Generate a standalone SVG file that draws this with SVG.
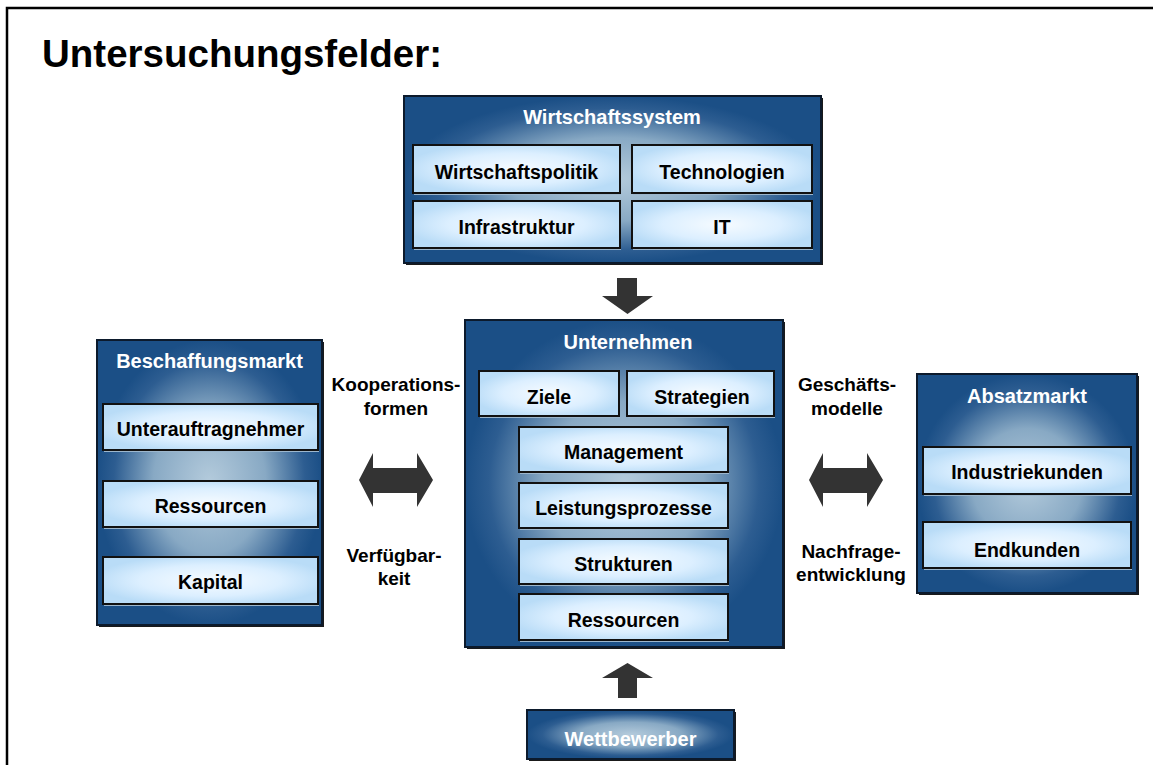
<svg xmlns="http://www.w3.org/2000/svg" width="1153" height="765" viewBox="0 0 1153 765">
<defs>
<radialGradient id="gOuter" cx="0.5" cy="0.5" r="0.5">
<stop offset="0" stop-color="#b4cbdc"/>
<stop offset="0.5" stop-color="#88a9c4"/>
<stop offset="0.85" stop-color="#2d5d91"/>
<stop offset="1" stop-color="#1b4f86"/>
</radialGradient>
<radialGradient id="gInner" cx="0.5" cy="0.5" r="0.55">
<stop offset="0" stop-color="#f6fbff"/>
<stop offset="0.6" stop-color="#dcefff"/>
<stop offset="1" stop-color="#b9dcf7"/>
</radialGradient>
<style>
.outer{fill:url(#gOuter);stroke:#0c1a2c;stroke-width:2}
.oshadow{fill:#1a1a1a}
.inner{fill:url(#gInner);stroke:#111;stroke-width:2}
.ishadow{fill:#9cb6cc}
.hd{font-family:"Liberation Sans",Arial,sans-serif;font-weight:bold;font-size:20px;fill:#fff;text-anchor:middle}
.tx{font-family:"Liberation Sans",Arial,sans-serif;font-weight:bold;font-size:19.5px;fill:#000;text-anchor:middle}
.lb{font-family:"Liberation Sans",Arial,sans-serif;font-weight:bold;font-size:19px;fill:#000;text-anchor:middle}
.arr{fill:#333}
</style>
</defs>
<rect width="1153" height="765" fill="#fff"/>
<path d="M7,770 V8 H1160" fill="none" stroke="#000" stroke-width="2.5"/>
<text x="42" y="67" font-family="Liberation Sans,Arial,sans-serif" font-weight="bold" font-size="38.5" fill="#000">Untersuchungsfelder:</text>

<g id="wirtschaftssystem">
<rect class="oshadow" x="406" y="98" width="417" height="167"/>
<rect class="outer" x="404" y="96" width="417" height="167"/>
<text class="hd" x="612" y="124">Wirtschaftssystem</text>
<g id="wirtschaftspolitik"><rect class="ishadow" x="414" y="147" width="207" height="48"/><rect class="inner" x="413" y="145" width="207" height="48"/><text class="tx" x="516.5" y="179">Wirtschaftspolitik</text></g>
<g id="technologien"><rect class="ishadow" x="633" y="147" width="180" height="48"/><rect class="inner" x="632" y="145" width="180" height="48"/><text class="tx" x="722" y="179">Technologien</text></g>
<g id="infrastruktur"><rect class="ishadow" x="414" y="203" width="207" height="47"/><rect class="inner" x="413" y="201" width="207" height="47"/><text class="tx" x="516.5" y="234">Infrastruktur</text></g>
<g id="it"><rect class="ishadow" x="633" y="203" width="180" height="47"/><rect class="inner" x="632" y="201" width="180" height="47"/><text class="tx" x="722" y="234">IT</text></g>
</g>

<g id="unternehmen">
<rect class="oshadow" x="467" y="322" width="318" height="327"/>
<rect class="outer" x="465" y="320" width="318" height="327"/>
<text class="hd" x="628" y="349">Unternehmen</text>
<g id="ziele"><rect class="ishadow" x="480" y="373" width="140" height="45"/><rect class="inner" x="479" y="371" width="140" height="45"/><text class="tx" x="549" y="404">Ziele</text></g>
<g id="strategien"><rect class="ishadow" x="628" y="373" width="147" height="45"/><rect class="inner" x="627" y="371" width="147" height="45"/><text class="tx" x="702" y="404">Strategien</text></g>
<g id="management"><rect class="ishadow" x="520" y="429" width="209" height="45"/><rect class="inner" x="519" y="427" width="209" height="45"/><text class="tx" x="623.5" y="459">Management</text></g>
<g id="leistungsprozesse"><rect class="ishadow" x="520" y="485" width="209" height="45"/><rect class="inner" x="519" y="483" width="209" height="45"/><text class="tx" x="623.5" y="515">Leistungsprozesse</text></g>
<g id="strukturen"><rect class="ishadow" x="520" y="541" width="209" height="45"/><rect class="inner" x="519" y="539" width="209" height="45"/><text class="tx" x="623.5" y="571">Strukturen</text></g>
<g id="ressourcen-u"><rect class="ishadow" x="520" y="596" width="209" height="46"/><rect class="inner" x="519" y="594" width="209" height="46"/><text class="tx" x="623.5" y="627">Ressourcen</text></g>
</g>

<g id="beschaffungsmarkt">
<rect class="oshadow" x="99" y="342" width="225" height="285"/>
<rect class="outer" x="97" y="340" width="225" height="285"/>
<text class="hd" x="209.5" y="368">Beschaffungsmarkt</text>
<g id="unterauftragnehmer"><rect class="ishadow" x="104" y="406" width="215" height="46"/><rect class="inner" x="103" y="404" width="215" height="46"/><text class="tx" x="210.5" y="436">Unterauftragnehmer</text></g>
<g id="ressourcen-b"><rect class="ishadow" x="104" y="483" width="215" height="46"/><rect class="inner" x="103" y="481" width="215" height="46"/><text class="tx" x="210.5" y="513">Ressourcen</text></g>
<g id="kapital"><rect class="ishadow" x="104" y="559" width="215" height="47"/><rect class="inner" x="103" y="557" width="215" height="47"/><text class="tx" x="210.5" y="589">Kapital</text></g>
</g>

<g id="absatzmarkt">
<rect class="oshadow" x="919" y="376" width="220" height="219"/>
<rect class="outer" x="917" y="374" width="220" height="219"/>
<text class="hd" x="1027" y="403">Absatzmarkt</text>
<g id="industriekunden"><rect class="ishadow" x="924" y="449" width="208" height="47"/><rect class="inner" x="923" y="447" width="208" height="47"/><text class="tx" x="1027" y="479">Industriekunden</text></g>
<g id="endkunden"><rect class="ishadow" x="924" y="524" width="208" height="46"/><rect class="inner" x="923" y="522" width="208" height="46"/><text class="tx" x="1027" y="557">Endkunden</text></g>
</g>

<g id="wettbewerber">
<rect class="oshadow" x="529" y="712" width="207" height="49"/>
<rect class="outer" x="527" y="710" width="207" height="49"/>
<text class="hd" x="630.5" y="746">Wettbewerber</text>
</g>

<g id="connectors">
<polygon class="arr" points="617,278 637,278 637,296 653,296 627.5,314 602,296 617,296"/>
<polygon class="arr" points="627.5,663 653,678 637,678 637,698 618,698 618,678 602,678"/>
<polygon class="arr" points="359,480 373,453 373,468 417,468 417,453 433,480 417,507 417,493 373,493 373,507"/>
<polygon class="arr" points="809,480 823,453 823,468 867,468 867,453 883,480 867,507 867,493 823,493 823,507"/>
</g>

<g id="labels">
<text class="lb" x="396" y="391">Kooperations-</text>
<text class="lb" x="396" y="415">formen</text>
<text class="lb" x="394" y="562">Verfügbar-</text>
<text class="lb" x="394" y="585">keit</text>
<text class="lb" x="847" y="391">Geschäfts-</text>
<text class="lb" x="847" y="415">modelle</text>
<text class="lb" x="851" y="558">Nachfrage-</text>
<text class="lb" x="851" y="581">entwicklung</text>
</g>
</svg>
